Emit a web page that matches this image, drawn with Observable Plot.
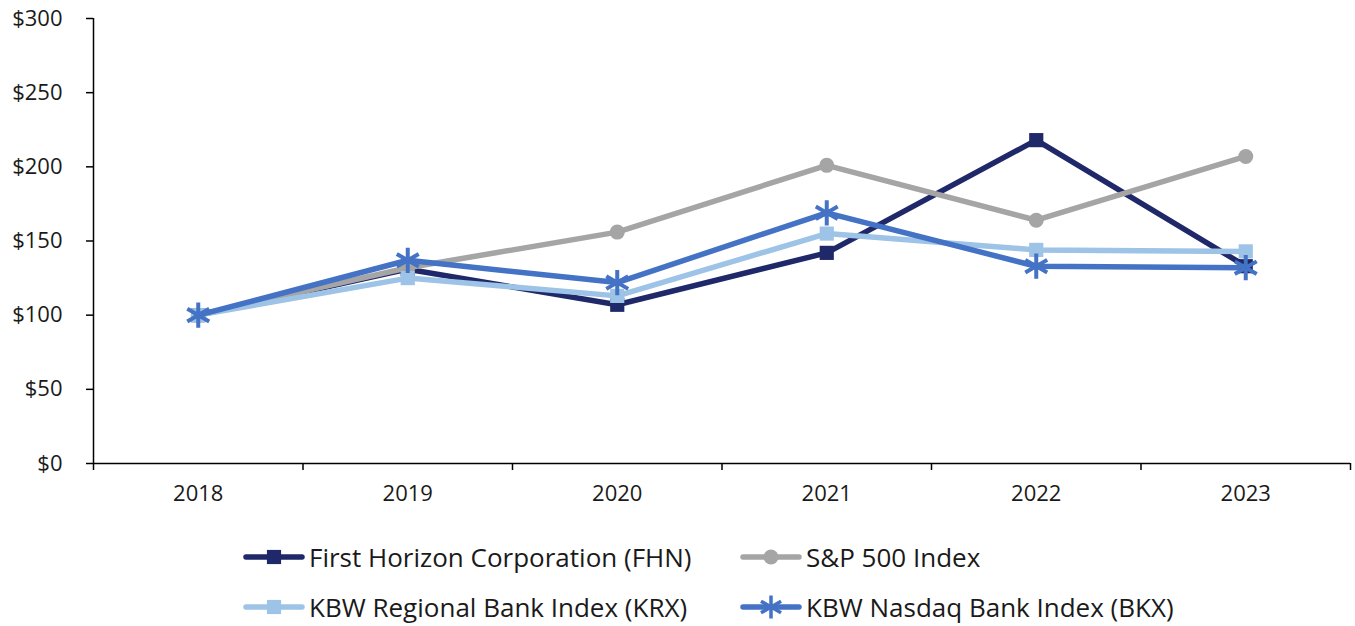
<!DOCTYPE html>
<html>
<head>
<meta charset="utf-8">
<script src="https://cdn.jsdelivr.net/npm/d3@7"></script>
<script src="https://cdn.jsdelivr.net/npm/@observablehq/plot@0.6"></script>
<style>
  body { margin: 0; background: #fff; font-family: "Open Sans", sans-serif; }
  #chart { position: relative; width: 1355px; height: 626px; }
  .legend { position: absolute; left: 0; top: 520px; width: 1355px; height: 106px; font-size: 26px; color: #1a1a1a; }
  .item { position: absolute; display: flex; align-items: center; white-space: nowrap; height: 32px; }
  .item svg { margin-right: 4px; }
</style>
</head>
<body>
<div id="chart"></div>
<script>
const years = [2018, 2019, 2020, 2021, 2022, 2023];
const fhn = [100, 131, 107, 142, 218, 133];
const spx = [100, 132, 156, 201, 164, 207];
const krx = [100, 125, 113, 155, 144, 143];
const bkx = [100, 137, 122, 169, 133, 132];
const seriesNames = ["First Horizon Corporation (FHN)", "S&P 500 Index", "KBW Regional Bank Index (KRX)", "KBW Nasdaq Bank Index (BKX)"];
const seriesColors = ["#1f2868", "#a5a5a5", "#9dc3e6", "#4472c4"];
const seriesSymbols = ["square", "circle", "square", "asterisk"];
const yTicks = [0, 50, 100, 150, 200, 250, 300];

const allValues = [fhn, spx, krx, bkx];
const series = seriesNames.map((name, i) => ({
  name, color: seriesColors[i], symbol: seriesSymbols[i],
  data: years.map((yr, j) => ({year: yr, value: allValues[i][j]}))
}));
const bandEdges = d3.range(years.length + 1).map(i => years[0] - 0.5 + i);

const marks = [
  Plot.axisY({ticks: yTicks, label: null, tickSize: 7, tickPadding: 24, tickFormat: d => "$" + d, fontSize: 22, stroke: "#000", strokeWidth: 1.5, color: "#1a1a1a"}),
  Plot.axisX({ticks: bandEdges, label: null, tickSize: 7, tickFormat: () => "", stroke: "#000", strokeWidth: 1.5}),
  Plot.axisX({ticks: years, label: null, tickSize: 0, tickPadding: 22, tickFormat: d => String(d), fontSize: 22, color: "#1a1a1a"}),
  Plot.ruleY([0], {stroke: "#000", strokeWidth: 1.5}),
  Plot.ruleX([bandEdges[0]], {y1: 0, y2: 300, stroke: "#000", strokeWidth: 1.5})
];
for (const s of series) {
  marks.push(Plot.line(s.data, {x: "year", y: "value", stroke: s.color, strokeWidth: 5.5, strokeLinejoin: "round"}));
  if (s.symbol === "asterisk") {
    marks.push(Plot.dot(s.data, {x: "year", y: "value", symbol: "asterisk", r: 12, stroke: s.color, strokeWidth: 4}));
  } else {
    marks.push(Plot.dot(s.data, {x: "year", y: "value", symbol: s.symbol, r: s.symbol === "square" ? 8 : 7.5, fill: s.color, stroke: "none"}));
  }
}

const plot = Plot.plot({
  width: 1355,
  height: 520,
  marginLeft: 93,
  marginRight: 5,
  marginTop: 18,
  marginBottom: 57,
  style: {fontFamily: "'Open Sans', sans-serif", background: "#fff"},
  x: {type: "linear", domain: [bandEdges[0], bandEdges[bandEdges.length - 1]], axis: null},
  y: {domain: [0, 300], axis: null},
  marks
});
const chart = document.getElementById("chart");
chart.appendChild(plot);

const legend = document.createElement("div");
legend.className = "legend";
const pos = [[243, 37], [740, 37], [243, 87], [740, 87]];
series.forEach((s, i) => {
  const item = document.createElement("div");
  item.className = "item";
  item.style.left = pos[i][0] + "px";
  item.style.top = (pos[i][1] - 16) + "px";
  const ns = "http://www.w3.org/2000/svg";
  const svg = document.createElementNS(ns, "svg");
  svg.setAttribute("width", 62); svg.setAttribute("height", 32);
  const line = document.createElementNS(ns, "line");
  line.setAttribute("x1", 3); line.setAttribute("x2", 59); line.setAttribute("y1", 16); line.setAttribute("y2", 16);
  line.setAttribute("stroke", s.color); line.setAttribute("stroke-width", 5.5); line.setAttribute("stroke-linecap", "round");
  svg.appendChild(line);
  const p = document.createElementNS(ns, "path");
  if (s.symbol === "asterisk") {
    p.setAttribute("d", d3.symbol(d3.symbolAsterisk, Math.PI * 11 * 11)());
    p.setAttribute("stroke", s.color); p.setAttribute("stroke-width", 3.5); p.setAttribute("fill", "none");
  } else {
    const r = s.symbol === "square" ? 8 : 7.5;
    p.setAttribute("d", d3.symbol(s.symbol === "square" ? d3.symbolSquare : d3.symbolCircle, Math.PI * r * r)());
    p.setAttribute("fill", s.color);
  }
  p.setAttribute("transform", "translate(31,16)");
  svg.appendChild(p);
  item.appendChild(svg);
  const span = document.createElement("span");
  span.textContent = s.name;
  item.appendChild(span);
  legend.appendChild(item);
});
chart.appendChild(legend);
</script>
</body>
</html>
